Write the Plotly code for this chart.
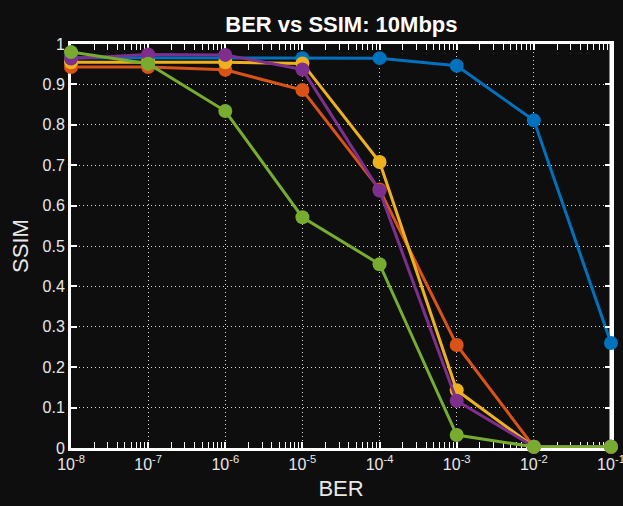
import plotly.graph_objects as go

ber = [1e-8, 1e-7, 1e-6, 1e-5, 1e-4, 1e-3, 1e-2, 1e-1]
ssim_blue = [0.966, 0.966, 0.966, 0.965, 0.965, 0.946, 0.811, 0.260]
ssim_orange = [0.943, 0.943, 0.936, 0.886, 0.640, 0.255, 0.003, 0.003]
ssim_yellow = [0.955, 0.955, 0.955, 0.952, 0.708, 0.143, 0.003, 0.003]
ssim_purple = [0.964, 0.974, 0.973, 0.937, 0.637, 0.117, 0.003, 0.003]
ssim_green = [0.980, 0.951, 0.834, 0.571, 0.455, 0.032, 0.003, 0.003]

series = [
    (ssim_blue, "#0072BD"),
    (ssim_orange, "#D95319"),
    (ssim_yellow, "#EDB120"),
    (ssim_purple, "#7E2F8E"),
    (ssim_green, "#77AC30"),
]

x_tickvals = [1e-8, 1e-7, 1e-6, 1e-5, 1e-4, 1e-3, 1e-2, 1e-1]
x_ticktext = ["10<sup>-8</sup>", "10<sup>-7</sup>", "10<sup>-6</sup>", "10<sup>-5</sup>",
              "10<sup>-4</sup>", "10<sup>-3</sup>", "10<sup>-2</sup>", "10<sup>-1</sup>"]
y_tickvals = [0, 0.1, 0.2, 0.3, 0.4, 0.5, 0.6, 0.7, 0.8, 0.9, 1]
y_ticktext = ["0", "0.1", "0.2", "0.3", "0.4", "0.5", "0.6", "0.7", "0.8", "0.9", "1"]

minor_x = [m * 10.0 ** e for e in range(-8, -1) for m in range(2, 10)]

fig = go.Figure()
# empty trace so the right-side tick axis is drawn
fig.add_trace(go.Scatter(x=[], y=[], yaxis="y2", showlegend=False, hoverinfo="skip"))
for ys, col in series:
    fig.add_trace(go.Scatter(
        x=ber, y=ys, mode="lines+markers",
        line=dict(color=col, width=3),
        marker=dict(color=col, size=14),
        cliponaxis=False, showlegend=False,
    ))

bg = "#0e0e0e"
font_col = "#e8e8e8"
grid_col = "rgba(240,240,240,0.9)"
fig.update_layout(
    width=623, height=506,
    paper_bgcolor=bg, plot_bgcolor=bg,
    margin=dict(l=71, r=12, t=44, b=58),
    font=dict(family="Liberation Sans, Arial, sans-serif", color=font_col, size=16),
    title=dict(text="<b>BER vs SSIM: 10Mbps</b>", x=0.548, xanchor="center",
               y=1 - 24 / 506, yanchor="middle", yref="container",
               font=dict(size=22, color="#ffffff")),
    yaxis2=dict(overlaying="y", side="right", range=[0, 1], automargin=False,
                tickmode="array", tickvals=y_tickvals, showticklabels=False,
                ticks="inside", ticklen=6, tickwidth=1.5, tickcolor="white",
                showgrid=False, zeroline=False, showline=False),
)
fig.update_xaxes(
    type="log", range=[-8.0002, -0.9998], automargin=False, layer="below traces",
    tickmode="array", tickvals=x_tickvals, ticktext=x_ticktext,
    ticklabeloverflow="allow",
    ticks="inside", ticklen=6, tickwidth=1.5, tickcolor="white",
    showline=True, linecolor="white", linewidth=3, mirror="allticks",
    showgrid=True, gridcolor=grid_col, griddash="1px,3px", gridwidth=1.2,
    minor=dict(tickmode="array", tickvals=minor_x, ticks="inside", ticklen=3,
               tickcolor="white", tickwidth=1, showgrid=False),
    tickfont=dict(size=16, color=font_col),
    title=dict(text="BER", font=dict(size=22, color=font_col), standoff=9),
    zeroline=False,
)
fig.update_yaxes(
    selector=dict(overlaying=None),
    range=[0, 1], automargin=False, layer="below traces",
    tickmode="array", tickvals=y_tickvals, ticktext=y_ticktext,
    ticklabeloverflow="allow",
    ticks="inside", ticklen=6, tickwidth=1.5, tickcolor="white",
    showline=True, linecolor="white", linewidth=3, mirror="allticks",
    showgrid=True, gridcolor=grid_col, griddash="1px,3px", gridwidth=1.2,
    tickfont=dict(size=16, color=font_col),
    title=dict(text="SSIM", font=dict(size=22, color=font_col), standoff=8),
    zeroline=False,
)
fig.add_shape(type="line", xref="paper", yref="paper", x0=1, x1=1, y0=0, y1=1,
              line=dict(color="white", width=3), layer="between")

fig.write_html(
    "out.html",
    config={"displayModeBar": False},
    post_script="document.body.style.margin='0';document.body.style.overflow='hidden';document.body.style.background='#0e0e0e';",
)
